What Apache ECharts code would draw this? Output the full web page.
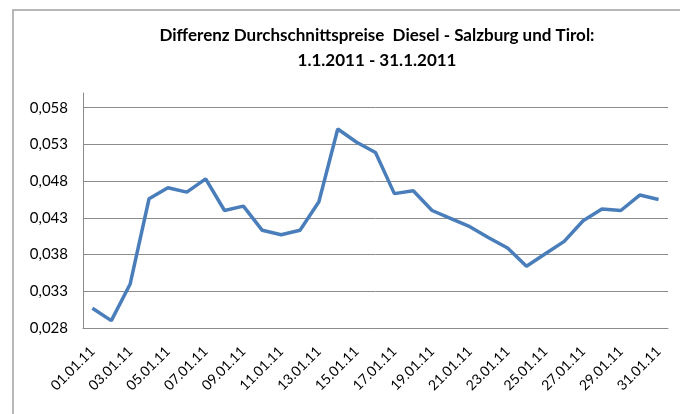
<!DOCTYPE html>
<html>
<head>
<meta charset="utf-8">
<script src="https://cdn.jsdelivr.net/npm/echarts@6/dist/echarts.min.js"></script>
<style>
  html, body { margin: 0; padding: 0; background: #fff; }
  #chart { width: 680px; height: 414px; }
</style>
</head>
<body>
<div id="chart"></div>
<script>
// Tage im Januar 2011
var days = ['01.01.11','02.01.11','03.01.11','04.01.11','05.01.11','06.01.11','07.01.11','08.01.11',
  '09.01.11','10.01.11','11.01.11','12.01.11','13.01.11','14.01.11','15.01.11','16.01.11',
  '17.01.11','18.01.11','19.01.11','20.01.11','21.01.11','22.01.11','23.01.11','24.01.11',
  '25.01.11','26.01.11','27.01.11','28.01.11','29.01.11','30.01.11','31.01.11'];

// Differenz Salzburg - Tirol (EUR)
var diff = [0.0307, 0.0290, 0.0340, 0.0456, 0.0471, 0.0465, 0.0483, 0.0440,
  0.0446, 0.0413, 0.0407, 0.0413, 0.0452, 0.0551, 0.0533, 0.0519,
  0.0463, 0.0467, 0.0440, 0.0429, 0.0418, 0.0403, 0.0389, 0.0364,
  0.0381, 0.0398, 0.0426, 0.0442, 0.0440, 0.0461, 0.0455];

var titleText = 'Differenz Durchschnittspreise  Diesel - Salzburg und Tirol:\n1.1.2011 - 31.1.2011';

var font = 'Lato, "Liberation Sans", sans-serif';
var chart = echarts.init(document.getElementById('chart'));

var option = {
  animation: false,
  backgroundColor: '#fff',
  title: {
    text: titleText,
    left: 372,
    top: 18,
    textAlign: 'center',
    textStyle: {
      fontFamily: font,
      fontSize: 17,
      fontWeight: 'bold',
      color: '#000',
      lineHeight: 25
    }
  },
  graphic: [{
    type: 'rect',
    shape: { x: 13, y: 10, width: 700, height: 430 },
    style: { fill: 'none', stroke: '#a0a0a0', lineWidth: 1.5 },
    silent: true
  }],
  grid: {
    left: 83,
    right: 12,
    top: 93,
    bottom: 86
  },
  xAxis: {
    type: 'category',
    data: days,
    boundaryGap: true,
    axisLine: { lineStyle: { color: '#8c8c8c', width: 1 } },
    axisTick: { show: false },
    axisLabel: {
      interval: 1,
      rotate: 45,
      margin: 21,
      fontFamily: font,
      fontSize: 14,
      color: '#000'
    }
  },
  yAxis: {
    type: 'value',
    min: 0.028,
    max: 0.06,
    interval: 0.005,
    axisLine: { show: true, lineStyle: { color: '#8c8c8c', width: 1 } },
    axisTick: { show: false },
    axisLabel: {
      showMaxLabel: false,
      margin: 15,
      fontFamily: font,
      fontSize: 15,
      color: '#000',
      formatter: function (v) { return v.toFixed(3).replace('.', ','); }
    },
    splitLine: {
      showMaxLine: false,
      lineStyle: { color: '#8c8c8c', width: 1 }
    }
  },
  series: [{
    type: 'line',
    data: diff,
    symbol: 'none',
    lineStyle: { color: '#4a7ebb', width: 3.5 },
    itemStyle: { color: '#4a7ebb' }
  }]
};

chart.setOption(option);
</script>
</body>
</html>
